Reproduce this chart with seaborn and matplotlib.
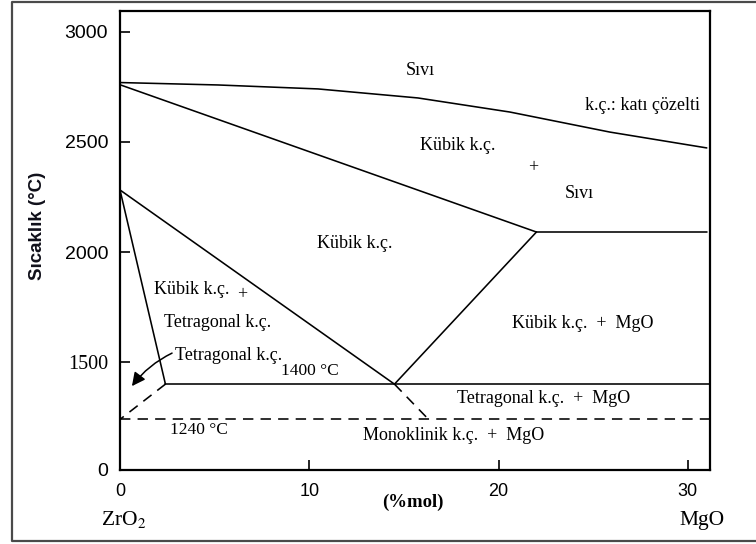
import matplotlib
matplotlib.use("Agg")
import matplotlib.pyplot as plt
from matplotlib.lines import Line2D
import pandas as pd
import seaborn as sns

# ZrO2–MgO phase boundaries (x: mol % MgO, y: temperature in °C)
liquidus_x = [0.0, 5.18, 10.46, 15.74, 20.60, 25.88, 31.0]
liquidus_y = [2770, 2759, 2741, 2700, 2636, 2545, 2473]

cubic_solidus_x = [0.0, 22.0]
cubic_solidus_y = [2760, 2091]

eutectic_x = [22.0, 31.0]
eutectic_y = [2091, 2091]

cubic_mgo_x = [22.0, 14.5]
cubic_mgo_y = [2091, 1400]

cubic_tet_x = [0.0, 14.5]
cubic_tet_y = [2282, 1400]

cubic_tet_ext_x = [14.5, 16.3]
cubic_tet_ext_y = [1400, 1240]

tetragonal_x = [0.0, 2.4]
tetragonal_y = [2282, 1400]

tetragonal_ext_x = [2.4, 0.0]
tetragonal_ext_y = [1400, 1240]

eutectoid_x = [2.4, 31.2]
eutectoid_y = [1400, 1400]

monoclinic_x = [0.0, 31.2]
monoclinic_y = [1240, 1240]

x_ticks = [0, 10, 20, 30]
x_tick_labels = ["0", "10", "20", "30"]
y_ticks = [1010, 1500, 2000, 2500, 3000]
y_tick_labels = ["0", "1500", "2000", "2500", "3000"]

sns.set_style("white")
plt.rcParams["font.family"] = ["Liberation Serif", "DejaVu Serif"]

fig = plt.figure(figsize=(7.56, 5.44), dpi=100)
ax = fig.add_axes([120 / 756, 1 - 470 / 544, 590 / 756, 459 / 544])

solid = dict(color="black", lw=1.15)
dashed = dict(color="black", lw=1.15, linestyle=(0, (6.5, 4.5)))

segments = [
    (liquidus_x, liquidus_y, solid),
    (cubic_solidus_x, cubic_solidus_y, solid),
    (eutectic_x, eutectic_y, solid),
    (cubic_mgo_x, cubic_mgo_y, solid),
    (cubic_tet_x, cubic_tet_y, solid),
    (cubic_tet_ext_x, cubic_tet_ext_y, dashed),
    (tetragonal_x, tetragonal_y, solid),
    (tetragonal_ext_x, tetragonal_ext_y, dashed),
    (eutectoid_x, eutectoid_y, solid),
    (monoclinic_x, monoclinic_y, dashed),
]
for xs, ys, style in segments:
    seg = pd.DataFrame({"x": xs, "y": ys})
    sns.lineplot(data=seg, x="x", y="y", sort=False, estimator=None, ax=ax, **style)

ax.set_xlim(0, 31.17)
ax.set_ylim(1010, 3095)
ax.set_xlabel("")
ax.set_ylabel("")

ax.set_xticks(x_ticks)
ax.set_xticklabels(x_tick_labels, family="Liberation Sans", fontsize=13, color="#222222")
ax.set_yticks(y_ticks)
ax.set_yticklabels(y_tick_labels, family="Liberation Sans", fontsize=14, color="#222222")
for lab in ax.get_yticklabels():
    if lab.get_text() == "1500":
        lab.set_family("Liberation Serif")
        lab.set_fontsize(14.5)
ax.tick_params(axis="both", direction="in", length=7, width=1.2, colors="black",
               bottom=True, left=True, top=False, right=False)
ax.tick_params(axis="x", pad=9.5)
ax.tick_params(axis="y", pad=8.5)
for sp in ax.spines.values():
    sp.set_color("black")
    sp.set_linewidth(1.6)

# Phase-field labels
labels = [
    ("Sıvı", 15.85, 2823, 13),
    ("k.ç.: katı çözelti", 27.58, 2668, 13),
    ("Kübik k.ç.", 17.86, 2486, 13),
    ("+", 21.82, 2382, 13),
    ("Sıvı", 24.25, 2268, 13),
    ("Kübik k.ç.", 12.41, 2041, 13),
    ("Kübik k.ç.", 3.80, 1832, 13),
    ("+", 6.44, 1805, 13),
    ("Tetragonal k.ç.", 5.18, 1682, 13),
    ("Tetragonal k.ç.", 5.71, 1532, 13),
    ("1400 °C", 10.04, 1459, 12.5),
    ("1240 °C", 4.17, 1191, 12.5),
    ("Kübik k.ç.  +  MgO", 24.46, 1677, 13),
    ("Tetragonal k.ç.  +  MgO", 22.40, 1336, 13),
    ("Monoklinik k.ç.  +  MgO", 17.64, 1168, 13),
]
for text, x, y, size in labels:
    ax.text(x, y, text, ha="center", va="center", fontsize=size, color="black")

ax.annotate("", xy=(0.63, 1391), xytext=(2.75, 1541),
            arrowprops=dict(arrowstyle="-|>", connectionstyle="arc3,rad=0.12",
                            color="black", lw=1.1, mutation_scale=20,
                            shrinkA=0, shrinkB=0))

fig.text(37 / 756, 1 - 226 / 544, "Sıcaklık (°C)", rotation=90, ha="center", va="center",
         family="Liberation Sans", fontsize=13.5, fontweight="bold", color="#10101a")
fig.text(413 / 756, 1 - 502 / 544, "(%mol)", ha="center", va="center",
         fontsize=13.5, fontweight="bold", color="black")
fig.text(124 / 756, 1 - 520 / 544, "ZrO$_2$", ha="center", va="center",
         fontsize=15.5, color="black", math_fontfamily="stix")
fig.text(702 / 756, 1 - 520 / 544, "MgO", ha="center", va="center",
         fontsize=15.5, color="black")

# Outer frame around the figure (right edge lies beyond the canvas)
frame_x = [1.0, 12 / 756, 12 / 756, 1.0]
frame_y = [1 - 2 / 544, 1 - 2 / 544, 1 - 541 / 544, 1 - 541 / 544]
fig.add_artist(Line2D(frame_x, frame_y, transform=fig.transFigure,
                      color="#4a4a4a", lw=1.6))

fig.savefig("out.png", dpi=100)
